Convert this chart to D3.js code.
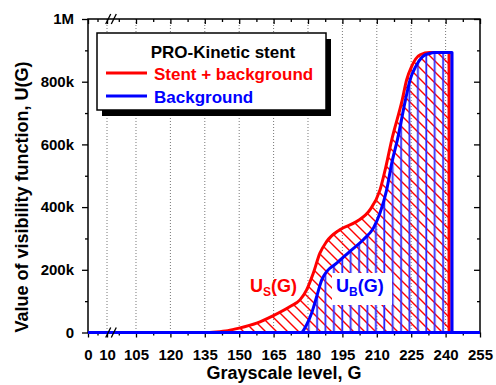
<!DOCTYPE html>
<html>
<head>
<meta charset="utf-8">
<script src="https://cdn.jsdelivr.net/npm/d3@7"></script>
<style>
    body { margin: 0; background: #fff; }
    text { font-family: "Liberation Sans", Arial, sans-serif; font-weight: bold; }
</style>
</head>
<body>
<div id="chart"></div>
<script>
// grayscale axis (broken between 10 and 105)
const gTicks = [0, 10, 105, 120, 135, 150, 165, 180, 195, 210, 225, 240, 255];
const gMinor = [5, 97.5, 112.5, 127.5, 142.5, 157.5, 172.5, 187.5, 202.5, 217.5, 232.5, 247.5];
const gBreak = [12.1, 94.1];

const uTicks = [0, 200000, 400000, 600000, 800000, 1000000];
const uTickLabels = ['0', '200k', '400k', '600k', '800k', '1M'];
const uMinor = [100000, 300000, 500000, 700000, 900000];

// U_S(G): stent + background (k units)
const stentG = [0, 135, 140, 145, 150, 157.6, 164.9, 172.2, 176.5, 179.4, 182.3, 185.2, 188.1, 193.9, 201.2, 207, 211.4, 214, 216.5, 221.1, 223, 225.2, 228.9, 233, 241.5, 241.5];
const stentU = [0, 0, 2, 6, 14, 30, 54, 83, 104, 136, 189, 253, 290, 328, 354, 391, 455, 530, 614, 742, 806, 849, 886, 893, 893, 0];

// U_B(G): background only (k units)
const bgG = [0, 177, 179.4, 181.6, 183.8, 186, 188.2, 192.5, 198.3, 204.1, 208.5, 211.4, 214.3, 216.5, 219, 222.5, 224.5, 227, 230, 233, 235, 242.8, 242.8, 255];
const bgU = [0, 0, 25, 62, 115, 168, 195, 221, 259, 296, 333, 381, 455, 540, 615, 742, 806, 849, 880, 890, 893, 893, 0, 0];

const seriesNames = ['Stent + background', 'Background'];
const legendTitle = 'PRO-Kinetic stent';

const W = 496, H = 385;
const plot = {left: 88, right: 480, top: 19, bottom: 332.5};

const svg = d3.select('#chart').append('svg')
    .attr('width', W)
    .attr('height', H);

const x = d3.scaleLinear()
    .domain([0, gBreak[0], gBreak[1], 255])
    .range([plot.left, 111, 111, plot.right]);
const y = d3.scaleLinear()
    .domain([0, 1000000])
    .range([plot.bottom, plot.top]);

function toPoints(gs, us) {
    return gs.map((g, i) => ({g: g, u: us[i] * 1000}));
}
const stent = toPoints(stentG, stentU);
const bg = toPoints(bgG, bgU);

// hatch patterns
const defs = svg.append('defs');
defs.append('pattern')
    .attr('id', 'redHatch')
    .attr('patternUnits', 'userSpaceOnUse')
    .attr('width', 11).attr('height', 11)
    .append('path')
    .attr('d', 'M-1,-1 L12,12 M-2,9 L2,13 M9,-2 L13,2')
    .attr('stroke', '#ff0000')
    .attr('stroke-width', 1.4);
defs.append('pattern')
    .attr('id', 'blueHatch')
    .attr('patternUnits', 'userSpaceOnUse')
    .attr('x', 2.3)
    .attr('width', 8.4).attr('height', 10)
    .append('line')
    .attr('x1', 4).attr('x2', 4).attr('y1', 0).attr('y2', 10)
    .attr('stroke', '#2a2aff')
    .attr('stroke-width', 1.8);

// dotted grid lines
svg.append('g').selectAll('line')
    .data(gTicks.filter(g => g > 0 && g < 255))
    .enter().append('line')
    .attr('x1', d => x(d)).attr('x2', d => x(d))
    .attr('y1', plot.top).attr('y2', plot.bottom)
    .attr('stroke', '#777')
    .attr('stroke-width', 1)
    .attr('stroke-dasharray', '1,2');

// split series at the vertical drop so the smooth curve stays monotone
function splitAtDrop(pts) {
    let i = pts.findIndex((p, k) => k > 0 && p.g === pts[k - 1].g);
    if (i < 0) return [pts, []];
    return [pts.slice(0, i), pts.slice(i - 1)];
}

const smoothLine = d3.line().x(d => x(d.g)).y(d => y(d.u)).curve(d3.curveMonotoneX);
const straightLine = d3.line().x(d => x(d.g)).y(d => y(d.u));
const area = d3.area().x(d => x(d.g)).y0(y(0)).y1(d => y(d.u)).curve(d3.curveMonotoneX);

function seriesPath(pts) {
    let parts = splitAtDrop(pts);
    let d = smoothLine(parts[0]);
    if (parts[1].length) d += straightLine(parts[1]).replace(/^M/, 'L');
    return d;
}

svg.append('path')
    .attr('d', area(splitAtDrop(stent)[0]))
    .attr('fill', 'url(#redHatch)');
svg.append('path')
    .attr('d', area(splitAtDrop(bg)[0]))
    .attr('fill', 'url(#blueHatch)');

// curve labels
svg.append('rect')
    .attr('x', 332).attr('y', 273)
    .attr('width', 60).attr('height', 32)
    .attr('fill', '#fff');

function curveLabel(xPos, sub, color) {
    let t = svg.append('text')
        .attr('x', xPos).attr('y', 292)
        .attr('fill', color)
        .style('font-size', '18px');
    t.append('tspan').text('U');
    t.append('tspan').attr('dy', 4).style('font-size', '12px').text(sub);
    t.append('tspan').attr('dy', -4).text('(G)');
}
curveLabel(250, 'S', '#ff0000');
curveLabel(336, 'B', '#0000ff');

svg.append('path')
    .attr('d', seriesPath(stent))
    .attr('fill', 'none')
    .attr('stroke', '#ff0000')
    .attr('stroke-width', 3)
    .attr('stroke-linejoin', 'round');
svg.append('path')
    .attr('d', seriesPath(bg))
    .attr('fill', 'none')
    .attr('stroke', '#0000ff')
    .attr('stroke-width', 3)
    .attr('stroke-linejoin', 'round');

// axes
function styleAxis(g) {
    g.select('.domain').remove();
    g.selectAll('.tick line').attr('stroke', '#000').attr('stroke-width', 1.3);
    g.selectAll('.tick text').style('font-size', '15px').attr('fill', '#000');
}

svg.append('g')
    .attr('transform', `translate(0,${plot.bottom})`)
    .call(d3.axisBottom(x).tickValues(gTicks).tickSize(5).tickPadding(12))
    .call(styleAxis);
svg.append('g')
    .attr('transform', `translate(0,${plot.bottom})`)
    .call(d3.axisBottom(x).tickValues(gMinor).tickSize(3).tickFormat(''))
    .call(styleAxis);
svg.append('g')
    .attr('transform', `translate(0,${plot.top})`)
    .call(d3.axisTop(x).tickValues(gTicks).tickSize(-5).tickFormat(''))
    .call(styleAxis);
svg.append('g')
    .attr('transform', `translate(0,${plot.top})`)
    .call(d3.axisTop(x).tickValues(gMinor).tickSize(-3).tickFormat(''))
    .call(styleAxis);

svg.append('g')
    .attr('transform', `translate(${plot.left},0)`)
    .call(d3.axisLeft(y).tickValues(uTicks).tickSize(6).tickPadding(8)
        .tickFormat((d, i) => uTickLabels[i]))
    .call(styleAxis);
svg.append('g')
    .attr('transform', `translate(${plot.left},0)`)
    .call(d3.axisLeft(y).tickValues(uMinor).tickSize(3).tickFormat(''))
    .call(styleAxis);
svg.append('g')
    .attr('transform', `translate(${plot.right},0)`)
    .call(d3.axisRight(y).tickValues(uTicks).tickSize(-6).tickFormat(''))
    .call(styleAxis);
svg.append('g')
    .attr('transform', `translate(${plot.right},0)`)
    .call(d3.axisRight(y).tickValues(uMinor).tickSize(-3).tickFormat(''))
    .call(styleAxis);

// frame
svg.append('rect')
    .attr('x', plot.left).attr('y', plot.top)
    .attr('width', plot.right - plot.left)
    .attr('height', plot.bottom - plot.top)
    .attr('fill', 'none')
    .attr('stroke', '#000')
    .attr('stroke-width', 1.5);

// blue baseline sits on top of the bottom axis
svg.append('path')
    .attr('d', straightLine(bg.filter(d => d.u === 0 && d.g <= gBreak[0] || d.g >= 242.8 && d.u === 0)))
    .attr('stroke', '#0000ff').attr('stroke-width', 3).attr('fill', 'none');

// axis break marks
[plot.top, plot.bottom].forEach(yy => {
    let bx = x(gBreak[0]);
    [-2.8, 2.8].forEach(off => {
        svg.append('line')
            .attr('x1', bx + off - 2.5).attr('y1', yy + 5)
            .attr('x2', bx + off + 2.5).attr('y2', yy - 5)
            .attr('stroke', '#000')
            .attr('stroke-width', 1.3);
    });
});

// axis titles
svg.append('text')
    .attr('x', (plot.left + plot.right) / 2)
    .attr('y', 379)
    .attr('text-anchor', 'middle')
    .style('font-size', '18px')
    .text('Grayscale level, G');
svg.append('text')
    .attr('transform', 'translate(28,197) rotate(-90)')
    .attr('text-anchor', 'middle')
    .style('font-size', '18px')
    .text('Value of visibility function, U(G)');

// legend
const legend = svg.append('g');
legend.append('rect')
    .attr('x', 102).attr('y', 39)
    .attr('width', 229).attr('height', 77)
    .attr('fill', '#000');
legend.append('rect')
    .attr('x', 97).attr('y', 33)
    .attr('width', 229).attr('height', 77)
    .attr('fill', '#fff')
    .attr('stroke', '#000')
    .attr('stroke-width', 1.5);
legend.append('text')
    .attr('x', 223).attr('y', 58)
    .attr('text-anchor', 'middle')
    .style('font-size', '17px')
    .text(legendTitle);
const legendColors = ['#ff0000', '#0000ff'];
seriesNames.forEach((name, i) => {
    let yy = 73 + i * 23;
    legend.append('line')
        .attr('x1', 106).attr('x2', 147)
        .attr('y1', yy).attr('y2', yy)
        .attr('stroke', legendColors[i])
        .attr('stroke-width', 3);
    legend.append('text')
        .attr('x', 154).attr('y', yy + 7)
        .attr('fill', legendColors[i])
        .style('font-size', '17px')
        .text(name);
});
</script>
</body>
</html>
